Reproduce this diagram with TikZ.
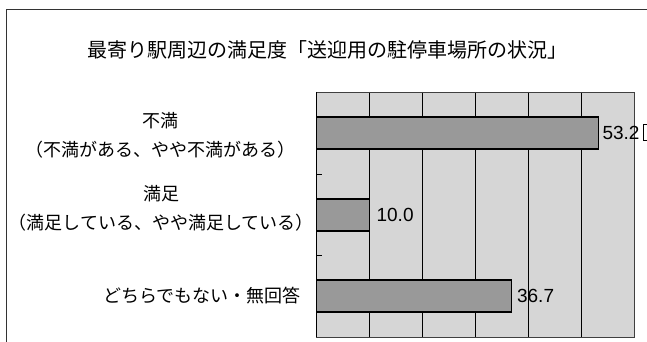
\documentclass[tikz,border=0pt]{standalone}
\usepackage{fontspec}
\newfontfamily\jpfont{Noto Sans CJK JP}
\newfontfamily\numfont{Liberation Sans}
\usetikzlibrary{positioning}
\begin{document}
\begin{tikzpicture}[x=1pt,y=-1pt,
  bar/.style={draw=black, line width=1.4pt, fill=bar area, inner sep=0pt, minimum height=32pt, anchor=west},
  val/.style={font=\numfont\fontsize{19}{19}\selectfont, inner sep=0pt},
  cat/.style={font=\jpfont\fontsize{18}{29}\selectfont, inner sep=0pt, align=center},
  gridline/.style={black, line width=0.6pt}]
\def\plotbox{(316,92) rectangle (634,337)}

\definecolor{plot area}{gray}{0.84}
\definecolor{bar area}{gray}{0.6}
\useasboundingbox (0,0) rectangle (647,342);
    \draw[gray!40!black, line width=1pt] (6,342) -- (6,10) -- (647,10);
    \node[font=\jpfont\fontsize{20}{20}\selectfont, inner sep=0pt] (title) at (327,50) {最寄り駅周辺の満足度「送迎用の駐停車場所の状況」};
    \fill[plot area] \plotbox;
    \foreach \p in {10,20,...,50}
        \draw[gridline] ({316+\p*5.3},92) -- ++(0,245);
    \draw[gray!50!black, line width=0.6pt] \plotbox;
    \draw[black, line width=1pt] (316,92) -- (316,337);
    \foreach \t in {174,255}
        \draw[black, line width=0.8pt] (316,\t) -- ++(6,0);
    % bars
    \node[bar, minimum width={53.2*5.3pt}] (b1) at (316,133) {};
    \node[bar, minimum width={10.0*5.3pt}] (b2) at (316,215) {};
    \node[bar, minimum width={36.7*5.3pt}] (b3) at (316,296) {};
    \node[val, right=3pt of b1] (v1) {53.2};
    \node[val, right=6pt of b2] (v2) {10.0};
    \node[val, right=5pt of b3] (v3) {36.7};
    \draw[black, line width=0.8pt] (643,124) rectangle (670,140);
    % categories
    \node[cat] (c1) at (160,135.5) {不満\\（不満がある、やや不満がある）};
    \node[cat] (c2) at (161,208.5) {満足\\（満足している、やや満足している）};
    \node[cat, anchor=east] (c3) at (301,296) {どちらでもない・無回答};

\end{tikzpicture}
\end{document}
